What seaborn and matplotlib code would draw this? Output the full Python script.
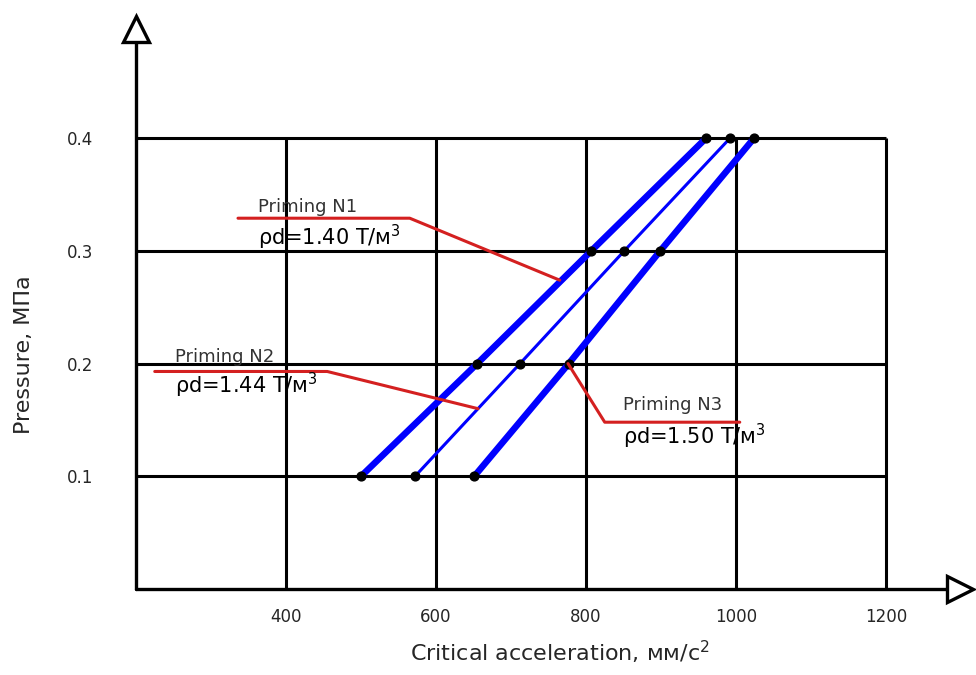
import numpy as np
import pandas as pd
import matplotlib
matplotlib.use("Agg")
import matplotlib.pyplot as plt
import seaborn as sns

# data
pressure = [0.1, 0.2, 0.3, 0.4]
accel_n1 = [500, 655, 807, 960]
accel_n2 = [572, 712, 851, 992]
accel_n3 = [651, 777, 899, 1024]
series_names = ["Priming N1", "Priming N2", "Priming N3"]
densities = ["1.40", "1.44", "1.50"]
x_ticks = [400, 600, 800, 1000, 1200]
y_ticks = [0.1, 0.2, 0.3, 0.4]

df = pd.DataFrame({
    "accel": accel_n1 + accel_n2 + accel_n3,
    "pressure": pressure * 3,
    "priming": np.repeat(series_names, len(pressure)),
})

sns.set_style("white")
plt.rcParams["font.family"] = ["DejaVu Sans"]

fig = plt.figure(figsize=(9.76, 6.75), dpi=100)
ax = fig.add_axes([136 / 976, 86 / 675, 840 / 976, 574 / 675])
ax.set_xlim(200, 1320)
ax.set_ylim(0, 0.5093)
for s in ax.spines.values():
    s.set_visible(False)

# grid
ax.vlines(x_ticks, 0, 0.4, color="black", lw=2.2, zorder=1)
ax.hlines(y_ticks, 200, 1200, color="black", lw=2.2, zorder=1)
# axes with open arrows
ax.plot([200, 200], [0, 0.485], color="black", lw=2.4, zorder=1, clip_on=False)
ax.plot([200, 1290], [0, 0], color="black", lw=2.4, zorder=1, clip_on=False)
ax.plot(200, 0.497, marker="^", ms=19, mfc="white", mec="black", mew=2.4,
        clip_on=False, zorder=3)
ax.plot(1299, 0, marker=">", ms=19, mfc="white", mec="black", mew=2.4,
        clip_on=False, zorder=3)

sns.lineplot(data=df, x="accel", y="pressure", hue="priming", size="priming",
             sizes={"Priming N1": 4.7, "Priming N2": 2.2, "Priming N3": 4.7},
             palette=["#0000ff"] * 3, legend=False, sort=False, ax=ax, zorder=2)
ax.scatter(df["accel"], df["pressure"], s=40, color="black", zorder=4)

# leaders and labels
red = "#d42020"
ax.plot([336, 565, 765], [0.329, 0.329, 0.274], color=red, lw=2.2, zorder=5)
ax.plot([225, 455, 656], [0.193, 0.193, 0.160], color=red, lw=2.2, zorder=5)
ax.plot([776, 825, 1005], [0.200, 0.148, 0.148], color=red, lw=2.2, zorder=5)

label_pos = [(363, 0.339, 0.312), (252, 0.206, 0.181), (849, 0.163, 0.135)]
for name, dens, (lx, y1, y2) in zip(series_names, densities, label_pos):
    ax.text(lx, y1, name, fontsize=13, va="center", ha="left", color="#333333",
            zorder=6)
    ax.text(lx, y2, "ρd=" + dens + " T/м$^3$", fontsize=15, va="center",
            ha="left", color="black", zorder=6)

ax.set_xticks(x_ticks)
ax.set_yticks(y_ticks)
ax.set_xticklabels([str(v) for v in x_ticks], fontsize=12)
ax.set_yticklabels([f"{v:.1f}" for v in y_ticks], fontsize=12)
ax.tick_params(axis="both", length=0)
ax.tick_params(axis="x", pad=14)
ax.tick_params(axis="y", pad=31)
ax.set_xlabel("Critical acceleration, мм/с$^2$", fontsize=16)
ax.xaxis.set_label_coords((560 - 136) / 840, -50 / 574)
ax.set_ylabel("Pressure, МПа", fontsize=16)
ax.yaxis.set_label_coords(-102 / 840, (589 - 355) / 574)

fig.savefig("out.png", dpi=100)
